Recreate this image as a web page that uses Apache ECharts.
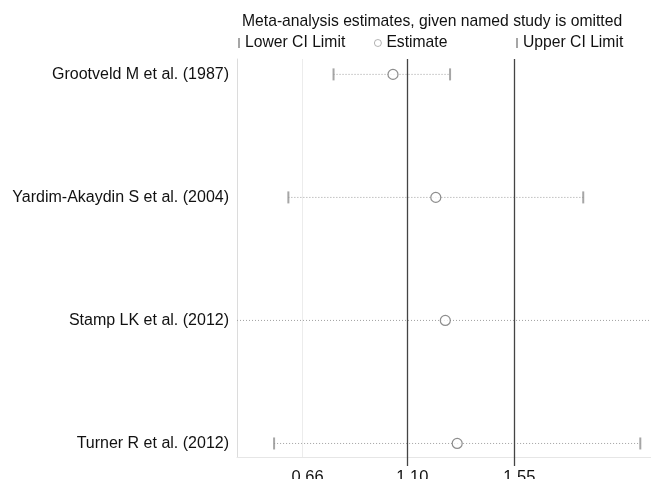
<!DOCTYPE html>
<html>
<head>
<meta charset="utf-8">
<script src="https://cdn.jsdelivr.net/npm/echarts@6/dist/echarts.min.js"></script>
<style>html,body{margin:0;padding:0;background:#fff}#c{width:651px;height:479px}</style>
</head>
<body>
<div id="c"></div>
<script>
const studies = ['Grootveld M et al. (1987)', 'Yardim-Akaydin S et al. (2004)', 'Stamp LK et al. (2012)', 'Turner R et al. (2012)'];
const rows = [1, 2, 3, 4];
const estimate = [1.04, 1.22, 1.26, 1.31];
const lowerCI = [0.79, 0.60, 0.30, 0.54];
const upperCI = [1.28, 1.84, 2.30, 2.08];
const xTicks = [0.66, 1.10, 1.55];
const refLines = [1.10, 1.55];
const faintLines = [0.66];

const font = 'Liberation Sans, Arial, sans-serif';
const chart = echarts.init(document.getElementById('c'), null, {renderer: 'canvas'});

const ciData = rows.map((r, i) => [lowerCI[i], upperCI[i], r]);

chart.setOption({
  animation: false,
  backgroundColor: '#fff',
  textStyle: {fontFamily: font},
  title: {
    text: 'Meta-analysis estimates, given named study is omitted',
    left: 242, top: 14, padding: 0,
    textStyle: {fontSize: 15.7, fontWeight: 'normal', color: '#111', fontFamily: font}
  },
  legend: [
    {data: ['Lower CI Limit'], left: 238, top: 35, padding: 0, itemWidth: 2, itemHeight: 10,
     textStyle: {fontSize: 15.7, color: '#111', fontFamily: font}},
    {data: ['Estimate'], left: 374, top: 35, padding: 0, itemWidth: 7, itemHeight: 7,
     itemStyle: {borderWidth: 0.8, borderColor: '#888'},
     textStyle: {fontSize: 15.7, color: '#111', fontFamily: font}},
    {data: ['Upper CI Limit'], left: 516, top: 35, padding: 0, itemWidth: 2, itemHeight: 10,
     textStyle: {fontSize: 15.7, color: '#111', fontFamily: font}}
  ],
  grid: {left: 237, right: 0, top: 59, bottom: 22, containLabel: false, outerBoundsMode: 'none'},
  xAxis: {
    type: 'value', min: 0.384, max: 2.125,
    splitLine: {show: false},
    axisLine: {show: true, lineStyle: {color: '#e6e6e6', width: 1}},
    axisTick: {show: true, customValues: refLines, length: 9, lineStyle: {color: '#444', width: 1.3}},
    axisLabel: {show: true, customValues: xTicks, margin: 12, fontSize: 16.5, color: '#111',
      fontFamily: font, padding: [0, 0, 0, 10], formatter: v => v.toFixed(2)}
  },
  yAxis: {
    type: 'value', inverse: true, min: 0.875, max: 4.11,
    splitLine: {show: false},
    axisLine: {show: true, lineStyle: {color: '#dcdcdc', width: 1}},
    axisTick: {show: false},
    axisLabel: {show: true, customValues: rows, margin: 8, fontSize: 16, color: '#111',
      fontFamily: font, formatter: v => studies[Math.round(v) - 1]}
  },
  series: [
    {
      name: 'CI', type: 'custom', silent: true, z: 1,
      data: ciData,
      renderItem: function (params, api) {
        const cs = params.coordSys;
        const p1 = api.coord([api.value(0), api.value(2)]);
        const p2 = api.coord([api.value(1), api.value(2)]);
        const x1 = Math.max(cs.x, p1[0]);
        const x2 = Math.min(cs.x + cs.width, p2[0]);
        return {
          type: 'line',
          shape: {x1: x1, y1: p1[1], x2: x2, y2: p2[1]},
          style: {stroke: '#a0a0a0', lineWidth: 1, lineDash: [1, 2]}
        };
      },
      markLine: {
        silent: true, symbol: 'none', label: {show: false},
        data: refLines.map(v => ({xAxis: v, lineStyle: {color: '#444', width: 1.3, type: 'solid'}}))
          .concat(faintLines.map(v => ({xAxis: v, lineStyle: {color: '#ececec', width: 1, type: 'solid'}})))
      }
    },
    {
      name: 'Lower CI Limit', type: 'scatter', clip: true, z: 3,
      symbol: 'rect', symbolSize: [2, 12],
      itemStyle: {color: '#909090'},
      data: rows.map((r, i) => [lowerCI[i], r])
    },
    {
      name: 'Upper CI Limit', type: 'scatter', clip: true, z: 3,
      symbol: 'rect', symbolSize: [2, 12],
      itemStyle: {color: '#909090'},
      data: rows.map((r, i) => [upperCI[i], r])
    },
    {
      name: 'Estimate', type: 'scatter', clip: true, z: 4,
      symbol: 'circle', symbolSize: 10,
      itemStyle: {color: '#fff', borderColor: '#707070', borderWidth: 1.2},
      data: rows.map((r, i) => [estimate[i], r])
    }
  ]
});
</script>
</body>
</html>
